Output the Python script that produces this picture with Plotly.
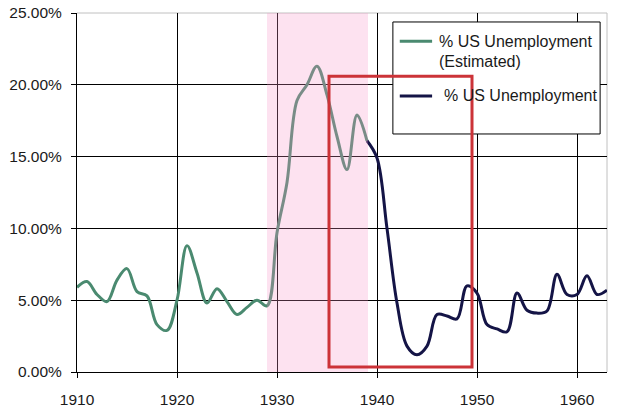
import plotly.graph_objects as go

# ---- data (percent) ----
est_years = list(range(1910, 1940))
est_values = [5.9, 6.3, 5.4, 4.9, 6.4, 7.2, 5.6, 5.3, 3.3, 2.9,
              5.0, 8.8, 6.9, 4.8, 5.8, 4.9, 4.0, 4.5, 5.0, 4.6,
              9.7, 13.2, 18.9, 20.0, 21.3, 19.3, 16.4, 14.1, 17.9, 16.1]

bls_years = list(range(1939, 1964))
bls_values = [16.1, 14.9, 10.0, 4.8, 1.8, 1.2, 1.8, 4.0, 3.9, 3.7,
              6.0, 5.5, 3.3, 3.0, 2.8, 5.5, 4.3, 4.1, 4.25, 6.8,
              5.4, 5.4, 6.7, 5.4, 5.7]

x_ticks = [1910, 1920, 1930, 1940, 1950, 1960]
y_ticks = [0, 5, 10, 15, 20, 25]
y_tick_labels = ["0.00%", "5.00%", "10.00%", "15.00%", "20.00%", "25.00%"]

est_name = "% US Unemployment (Estimated)"
bls_name = "% US Unemployment"

GREEN = "#4a8a70"
NAVY = "#141446"
RED = "#cc3338"
FONT = "Liberation Sans, Arial, sans-serif"

fig = go.Figure()
fig.add_trace(go.Scatter(x=est_years, y=est_values, mode="lines", name=est_name,
                         line=dict(color=GREEN, width=3, shape="spline"),
                         showlegend=False))
fig.add_trace(go.Scatter(x=bls_years, y=bls_values, mode="lines", name=bls_name,
                         line=dict(color=NAVY, width=3, shape="spline"),
                         showlegend=False))

shapes = []
# gray plot border top/right
shapes.append(dict(type="line", xref="paper", yref="paper", x0=0, x1=1, y0=1, y1=1,
                   line=dict(color="#c0c0c0", width=1), layer="between"))
shapes.append(dict(type="line", xref="paper", yref="paper", x0=1, x1=1, y0=0, y1=1,
                   line=dict(color="#c0c0c0", width=1), layer="between"))
# pink period shading (over the line)
shapes.append(dict(type="rect", xref="x", yref="paper", x0=1929, x1=1939.1, y0=0, y1=1,
                   fillcolor="rgba(247,149,198,0.27)", line=dict(width=0), layer="above"))
# manual legend box
shapes.append(dict(type="rect", xref="paper", yref="paper", x0=0.596, x1=0.987, y0=0.663, y1=0.975,
                   fillcolor="white", line=dict(color="black", width=1), layer="above"))
shapes.append(dict(type="line", xref="paper", yref="paper", x0=0.609, x1=0.670, y0=0.921, y1=0.921,
                   line=dict(color=GREEN, width=3), layer="above"))
shapes.append(dict(type="line", xref="paper", yref="paper", x0=0.609, x1=0.670, y0=0.769, y1=0.769,
                   line=dict(color=NAVY, width=3), layer="above"))
# red highlight box
shapes.append(dict(type="rect", xref="x", yref="y", x0=1935.2, x1=1949.5, y0=0.35, y1=20.6,
                   fillcolor="rgba(0,0,0,0)", line=dict(color=RED, width=3), layer="above"))

annotations = [
    dict(xref="paper", yref="paper", x=0.679, y=0.920, text="% US Unemployment",
         showarrow=False, xanchor="left", yanchor="middle", font=dict(size=16, color="#1a1a1a", family=FONT)),
    dict(xref="paper", yref="paper", x=0.679, y=0.864, text="(Estimated)",
         showarrow=False, xanchor="left", yanchor="middle", font=dict(size=16, color="#1a1a1a", family=FONT)),
    dict(xref="paper", yref="paper", x=0.689, y=0.769, text="% US Unemployment",
         showarrow=False, xanchor="left", yanchor="middle", font=dict(size=16, color="#1a1a1a", family=FONT)),
]

# the page body adds an 8px offset, so margins are compensated
fig.update_layout(
    width=620, height=410,
    margin=dict(l=69, r=21, t=5, b=46),
    paper_bgcolor="white", plot_bgcolor="white",
    font=dict(family=FONT, size=15.5, color="#1a1a1a"),
    shapes=shapes, annotations=annotations,
    showlegend=False,
)
fig.update_xaxes(range=[1910, 1963], tickvals=x_ticks, showgrid=True, gridcolor="black", gridwidth=1,
                 showline=True, linecolor="black", linewidth=1, ticks="outside", ticklen=5,
                 tickcolor="black", zeroline=False, ticklabelstandoff=8, automargin=False,
                 ticklabeloverflow="allow")
fig.update_yaxes(range=[0, 25], tickvals=y_ticks, ticktext=y_tick_labels, showgrid=True,
                 gridcolor="black", gridwidth=1, showline=True, linecolor="black", linewidth=1,
                 ticks="outside", ticklen=5, tickcolor="black", zeroline=False, ticklabelstandoff=6,
                 automargin=False, ticklabeloverflow="allow")

fig.write_html("out.html")
